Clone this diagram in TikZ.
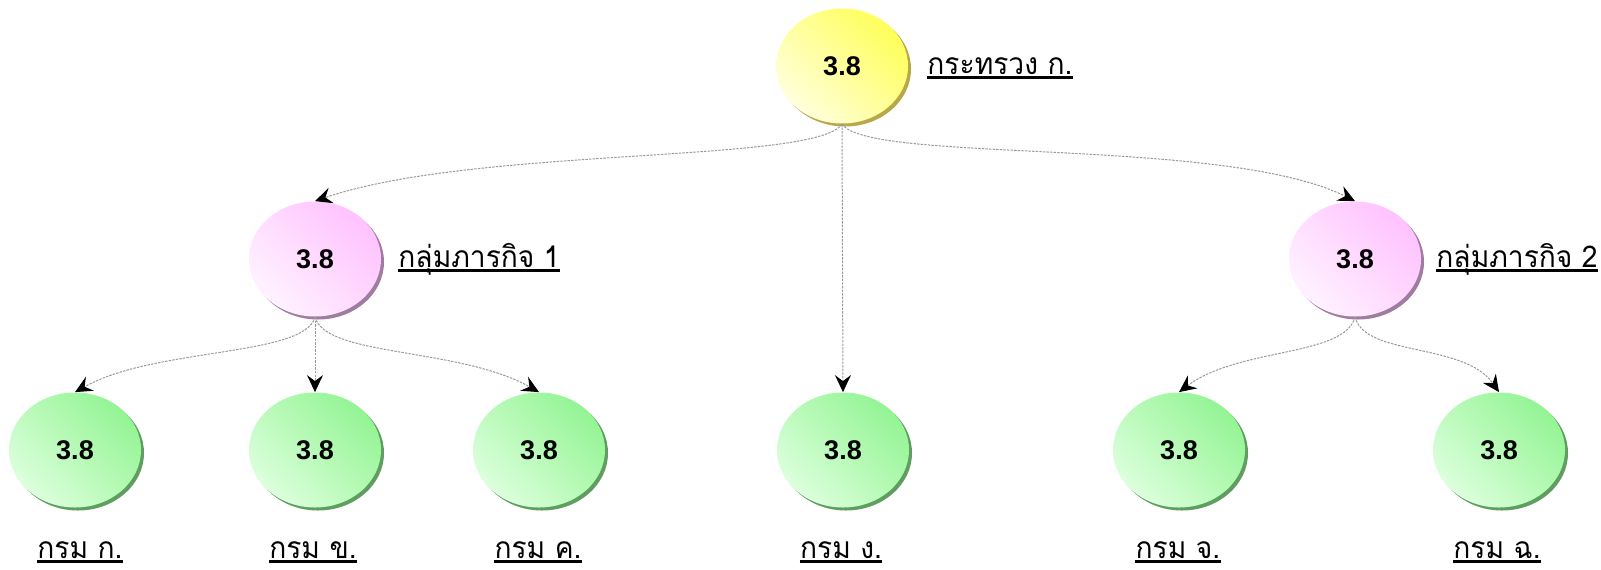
\documentclass[tikz,border=0pt]{standalone}
\usepackage{fontspec}
\setmainfont{Liberation Sans}
\newfontfamily\thaifont[Script=Thai,FakeStretch=0.94]{Loma}
\usetikzlibrary{shapes.geometric,arrows.meta,shadows}
\definecolor{ylwS}{HTML}{FFFF5A}
\definecolor{ylwL}{HTML}{FFFFDC}
\definecolor{ylwD}{HTML}{B8A848}
\definecolor{pnkS}{HTML}{FFC2FF}
\definecolor{pnkL}{HTML}{FFF2FF}
\definecolor{pnkD}{HTML}{A07CA0}
\definecolor{grnS}{HTML}{94F494}
\definecolor{grnL}{HTML}{DCFFDC}
\definecolor{grnD}{HTML}{5E9E5E}
\tikzset{
  x=0.5pt, y=-0.5pt,
  bub/.style={ellipse, minimum width=66pt, minimum height=57.5pt, inner sep=0pt,
    font=\fontsize{13.5}{15}\selectfont\bfseries},
  ybub/.style={bub, top color=ylwS, bottom color=ylwL, shading angle=-45,
    drop shadow={shadow xshift=1.5pt, shadow yshift=-1.5pt, fill=ylwD, opacity=1}},
  pbub/.style={bub, top color=pnkS, bottom color=pnkL, shading angle=-45,
    drop shadow={shadow xshift=1.5pt, shadow yshift=-1.5pt, fill=pnkD, opacity=1}},
  gbub/.style={bub, top color=grnS, bottom color=grnL, shading angle=-45,
    drop shadow={shadow xshift=1.5pt, shadow yshift=-1.5pt, fill=grnD, opacity=1}},
  lbl/.style={inner sep=0pt, font=\thaifont\fontsize{15}{17}\selectfont},
  uline/.style={line width=1.2pt},
  conn/.style={draw=black!40, line width=0.5pt, dash pattern=on 1.2pt off 0.6pt,
    -{Stealth[length=8.5pt,width=8pt,inset=3pt,color=black]}},
}
\newcommand{\ulabel}[1]{\draw[uline] ([yshift=-1.8pt]#1.base west) -- ([yshift=-1.8pt]#1.base east);}
\begin{document}
\begin{tikzpicture}
\useasboundingbox (0,0) rectangle (1601,569);
% bubbles
\node[ybub] (top) at (842,66) {3.8};
\node[pbub] (p1) at (315,259) {3.8};
\node[pbub] (p2) at (1355,259) {3.8};
\node[gbub] (g1) at (75,450) {3.8};
\node[gbub] (g2) at (315,450) {3.8};
\node[gbub] (g3) at (539,450) {3.8};
\node[gbub] (g4) at (843,450) {3.8};
\node[gbub] (g5) at (1179,450) {3.8};
\node[gbub] (g6) at (1499,450) {3.8};
% labels
\node[lbl, anchor=base west] (ltop) at (927,74) {กระทรวง ก.};
\node[lbl, anchor=base west] (lp1) at (398,267) {กลุ่มภารกิจ 1};
\node[lbl, anchor=base west] (lp2) at (1436,267) {กลุ่มภารกิจ 2};
\node[lbl, anchor=base] (lg1) at (80,558) {กรม ก.};
\node[lbl, anchor=base] (lg2) at (313,558) {กรม ข.};
\node[lbl, anchor=base] (lg3) at (538,558) {กรม ค.};
\node[lbl, anchor=base] (lg4) at (841,558) {กรม ง.};
\node[lbl, anchor=base] (lg5) at (1178,558) {กรม จ.};
\node[lbl, anchor=base] (lg6) at (1497,558) {กรม ฉ.};
\foreach \n in {ltop,lp1,lp2,lg1,lg2,lg3,lg4,lg5,lg6} {\ulabel{\n}}
% connectors
\draw[conn] (top.south) .. controls +(-25,40) and +(160,-55) .. (p1.north);
\draw[conn] (top.south) .. controls +(25,40) and +(-130,-65) .. (p2.north);
\draw[conn] (top.south) -- (g4.north);
\draw[conn] (p1.south) .. controls +(-10,40) and +(80,-45) .. (g1.north);
\draw[conn] (p1.south) -- (g2.north);
\draw[conn] (p1.south) .. controls +(10,40) and +(-80,-45) .. (g3.north);
\draw[conn] (p2.south) .. controls +(-10,40) and +(60,-45) .. (g5.north);
\draw[conn] (p2.south) .. controls +(10,40) and +(-35,-50) .. (g6.north);
\end{tikzpicture}
\end{document}
